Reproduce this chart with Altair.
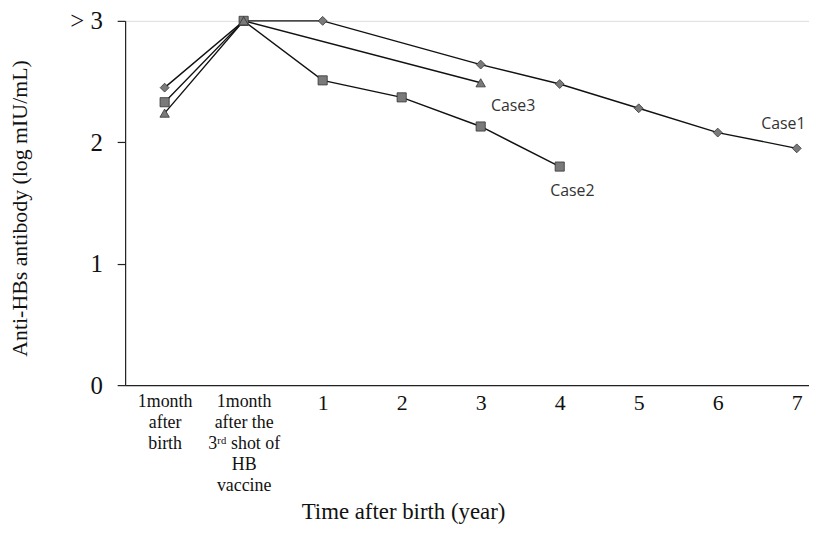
import json
import altair as alt
import pandas as pd

# x positions: 0 = 1 month after birth, 1 = 1 month after 3rd shot, 2..8 = year 1..7
x_labels = [
    ["1month", "after", "birth"],
    ["1month", "after the", "3ʳᵈ shot of", "HB", "vaccine"],
    "1", "2", "3", "4", "5", "6", "7",
]
y_labels = ["0", "1", "2", "> 3"]

case1_x = [0, 1, 2, 4, 5, 6, 7, 8]
case1_y = [2.45, 3.0, 3.0, 2.64, 2.48, 2.28, 2.08, 1.95]
case2_x = [0, 1, 2, 3, 4, 5]
case2_y = [2.33, 3.0, 2.51, 2.37, 2.13, 1.80]
case3_x = [0, 1, 4]
case3_y = [2.24, 3.0, 2.49]

ann_text = ["Case1", "Case2", "Case3"]
ann_x = [7.83, 5.16, 4.41]
ann_y = [2.15, 1.60, 2.30]

rows = []
for name, xs, ys in [("Case1", case1_x, case1_y), ("Case2", case2_x, case2_y), ("Case3", case3_x, case3_y)]:
    for i, (xv, yv) in enumerate(zip(xs, ys)):
        rows.append({"case": name, "x": xv, "y": yv, "order": i})
df = pd.DataFrame(rows)
ann = pd.DataFrame({"text": ann_text, "x": ann_x, "y": ann_y})

SERIF = "Liberation Serif"
W, H = 689, 367

xscale = alt.Scale(domain=[-0.5, 8.155], nice=False, zero=False)
yscale = alt.Scale(domain=[0, 3], nice=False)

xaxis = alt.Axis(
    values=list(range(9)),
    labelExpr=f"{json.dumps(x_labels, ensure_ascii=False)}[datum.value]",
    ticks=False, grid=False, domainColor="#222", domainWidth=1.2,
    labelFont=SERIF, labelColor="#111",
    labelFontSize={"condition": {"test": "datum.value <= 1", "value": 18}, "value": 22},
    labelLineHeight=21, labelPadding=8, labelBaseline="top",
    labelOverlap=False, labelFlush=False,
    title="Time after birth (year)", titleFont=SERIF, titleFontSize=23,
    titleFontWeight="normal", titleColor="#111",
    titleX=280, titleY=127, titleAnchor="middle", titleAlign="center", titleBaseline="middle",
)
yaxis = alt.Axis(
    values=[0, 1, 2, 3],
    labelExpr=f"{json.dumps(y_labels)}[datum.value]",
    ticks=True, tickSize=8, tickColor="#222", tickWidth=1.2, grid=False,
    domainColor="#222", domainWidth=1.2,
    labelFont=SERIF, labelFontSize=25, labelColor="#111", labelPadding=15,
    title="Anti-HBs antibody (log  mIU/mL)", titleFont=SERIF, titleFontSize=22,
    titleFontWeight="normal", titleColor="#111",
    titleX=-106, titleY=H / 2 + 5, titleAngle=-90, titleAlign="center", titleBaseline="middle",
)

base = alt.Chart(df)
lines = base.mark_line(color="#111", strokeWidth=1.4).encode(
    x=alt.X("x:Q", scale=xscale, axis=xaxis),
    y=alt.Y("y:Q", scale=yscale, axis=yaxis),
    detail="case:N",
    order="order:Q",
)
points = base.mark_point(filled=True, opacity=1, fill="#7a7a7a", stroke="#333", strokeWidth=0.8).encode(
    x=alt.X("x:Q", scale=xscale),
    y=alt.Y("y:Q", scale=yscale),
    shape=alt.Shape("case:N", scale=alt.Scale(domain=["Case1", "Case2", "Case3"],
                                              range=["diamond", "square", "triangle-up"]), legend=None),
    size=alt.Size("case:N", scale=alt.Scale(domain=["Case1", "Case2", "Case3"],
                                            range=[80, 90, 80]), legend=None),
)
labels = alt.Chart(ann).mark_text(font="Open Sans", fontSize=16, color="#333", align="center", baseline="middle").encode(
    x=alt.X("x:Q", scale=xscale),
    y=alt.Y("y:Q", scale=yscale),
    text="text:N",
)

chart = alt.layer(lines, points, labels).properties(
    width=W, height=H,
    autosize=alt.AutoSizeParams(type="none"),
    padding={"left": 118, "top": 11, "right": 0, "bottom": 145},
).configure_view(stroke=None).configure(background="white")

chart.save("out.html", embed_options={"renderer": "svg", "actions": False})
